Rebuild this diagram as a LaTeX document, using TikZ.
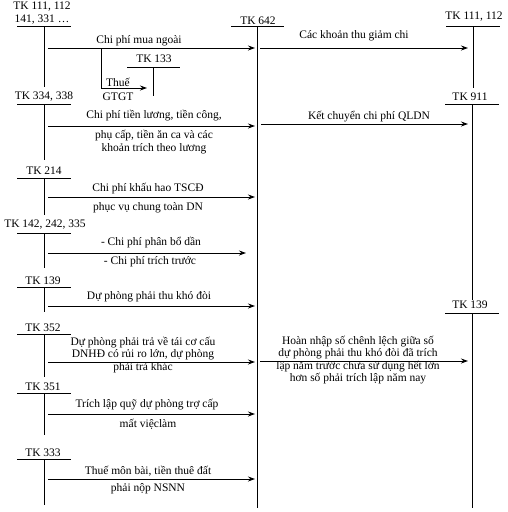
\documentclass[tikz,border=0pt]{standalone}
\usepackage{fontspec}
\setmainfont{Liberation Serif}
\usetikzlibrary{arrows.meta}

\begin{document}
\begin{tikzpicture}[
  x=1pt,y=-1pt,
  font=\fontsize{11.5}{12.5}\selectfont,>={Stealth[length=7pt,width=5pt]},
  acc/.style={inner sep=0pt},
  lbl/.style={inner sep=0pt,align=center},
  tacc/.style={line width=0.9pt},
  flow/.style={->,line width=0.9pt},
]
\useasboundingbox (0,0) rectangle (508,512);

% ===== left column: source accounts =====
\node[acc] (a111l) at (42,7) {TK 111, 112};
\node[acc] (a141) at (42,20) {141, 331 …};
\draw[tacc] (17,26) -- (71,26) (44,26) -- (44,87);

\node[acc] (a334) at (44,97) {TK 334, 338};
\draw[tacc] (17,104) -- (71,104) (44,104) -- (44,160);

\node[acc] (a214) at (44,171) {TK 214};
\draw[tacc] (17,178) -- (71,178) (44,178) -- (44,215);

\node[acc] (a142) at (45,225) {TK 142, 242, 335};
\draw[tacc] (17,233) -- (71,233) (44,233) -- (44,268);

\node[acc] (a139l) at (43,281) {TK 139};
\draw[tacc] (17,287) -- (71,287) (44,287) -- (44,312);

\node[acc] (a352) at (43,328) {TK 352};
\draw[tacc] (17,334) -- (71,334) (44,334) -- (44,377);

\node[acc] (a351) at (43,387) {TK 351};
\draw[tacc] (17,393) -- (71,393) (44,393) -- (44,435);

\node[acc] (a333) at (43,453) {TK 333};
\draw[tacc] (17,459) -- (71,459) (44,459) -- (44,505);

% ===== TK 133 =====
\node[acc] (a133) at (154,59) {TK 133};
\draw[tacc] (127,67) -- (180,67) (153,67) -- (153,96);

% ===== middle: TK 642 =====
\node[acc] (a642) at (258,21) {TK 642};
\draw[tacc] (231,26) -- (284,26) (257,26) -- (257,508);

% ===== right column =====
\node[acc] (a111r) at (474,17) {TK 111, 112};
\draw[tacc] (446,26) -- (500,26) (473,26) -- (473,88);

\node[acc] (a911) at (470,97) {TK 911};
\draw[tacc] (445,104) -- (499,104) (472,104) -- (472,300);

\node[acc] (a139r) at (470,305) {TK 139};
\draw[tacc] (445,313) -- (499,313) (472,313) -- (472,508);

% arrow ends
\coordinate (e642) at (255,0);
\coordinate (e142) at (246,0);
\coordinate (eR) at (468,0);

% ===== flows into TK 642 =====
\coordinate (s1) at (48,48);
\draw[flow] (s1) -- (s1 -| e642);
\node[lbl] (l1) at (139,41) {Chi phí mua ngoài};
\coordinate (b1) at (101,48);
\coordinate (b2) at (147,88);
\draw[flow] (b1) |- (b2);
\node[lbl] (l1a) at (118,82) {Thuế};
\node[lbl] (l1b) at (118,97) {GTGT};

\coordinate (s2) at (48,126);
\draw[flow] (s2) -- (s2 -| e642);
\node[lbl] (l2a) at (154,116) {Chi phí tiền lương, tiền công,};
\node[lbl] (l2b) at (154,142) {phụ cấp, tiền ăn ca và các\\khoản trích theo lương};

\coordinate (s3) at (48,197);
\draw[flow] (s3) -- (s3 -| e642);
\node[lbl] (l3a) at (148,189) {Chi phí khấu hao TSCĐ};
\node[lbl] (l3b) at (148,208) {phục vụ chung toàn DN};

\coordinate (s4) at (48,253);
\draw[flow] (s4) -- (s4 -| e142);
\node[lbl] (l4a) at (151,243) {- Chi phí phân bổ dần};
\node[lbl] (l4b) at (150,262) {- Chi phí trích trước};

\coordinate (s5) at (48,306);
\draw[flow] (s5) -- (s5 -| e642);
\node[lbl] (l5) at (149,297) {Dự phòng phải thu khó đòi};

\node[lbl] (l6) at (143,355) {Dự phòng phải trả về tái cơ cấu\\DNHĐ có rủi ro lớn, dự phòng\\phải trả khác};
\coordinate (s6) at (48,362);
\draw[flow] (s6) -- (s6 -| e642);

\coordinate (s7) at (48,414);
\draw[flow] (s7) -- (s7 -| e642);
\node[lbl] (l7a) at (147,405) {Trích lập quỹ dự phòng trợ cấp};
\node[lbl] (l7b) at (148,424) {mất việclàm};

\coordinate (s8) at (48,479);
\draw[flow] (s8) -- (s8 -| e642);
\node[lbl] (l8a) at (148,471) {Thuế môn bài, tiền thuê đất};
\node[lbl] (l8b) at (148,489) {phải nộp NSNN};

% ===== flows out of TK 642 =====
\coordinate (r1) at (260,48);
\draw[flow] (r1) -- (r1 -| eR);
\node[lbl] (m1) at (354,36) {Các khoản thu giảm chi};

\coordinate (r2) at (261,124);
\draw[flow] (r2) -- (r2 -| eR);
\node[lbl] (m2) at (369,117) {Kết chuyển chi phí QLDN};

\node[lbl] (m3) at (358,360) {Hoàn nhập số chênh lệch giữa số\\dự phòng phải thu khó đòi đã trích\\lập năm trước chưa sử dụng hết lớn\\hơn số phải trích lập năm nay};
\coordinate (r3) at (260,361);
\draw[flow] (r3) -- (r3 -| eR);
\end{tikzpicture}
\end{document}
